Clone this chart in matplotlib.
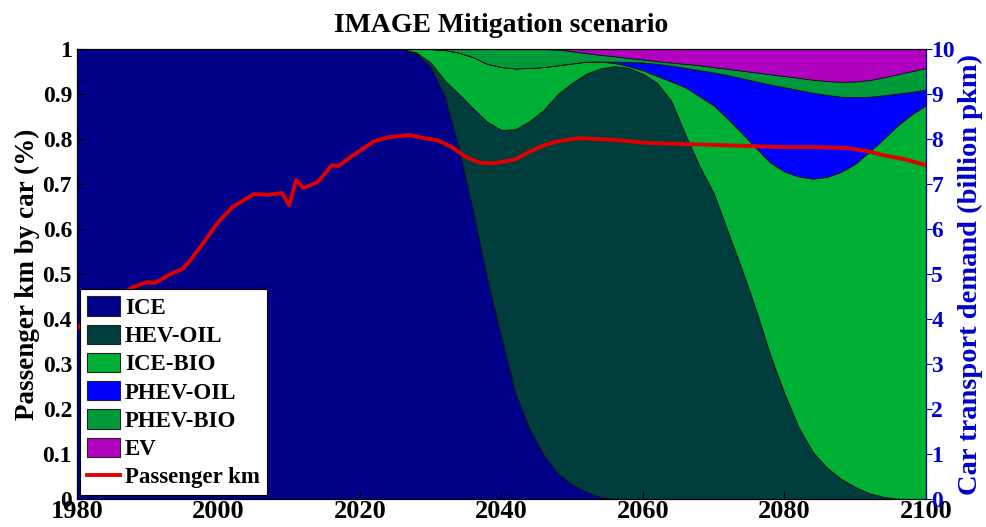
import numpy as np
import matplotlib.pyplot as plt
from matplotlib.patches import Patch
from matplotlib.lines import Line2D

plt.rcParams['font.family'] = 'Liberation Serif'
plt.rcParams['font.weight'] = 'bold'

# share of passenger km by car technology
years = [1980, 2026, 2028, 2030, 2032, 2034, 2036, 2038, 2040, 2042, 2044,
         2046, 2048, 2050, 2052, 2054, 2056, 2058, 2060, 2062, 2064, 2066,
         2068, 2070, 2072, 2074, 2076, 2078, 2080, 2082, 2084, 2086, 2088,
         2090, 2092, 2094, 2096, 2098, 2100]

ice = [1.0, 1.0, 0.99, 0.96, 0.895, 0.78, 0.64, 0.49, 0.36, 0.235, 0.155,
       0.098, 0.057, 0.033, 0.016, 0.005, 0, 0, 0, 0, 0, 0,
       0, 0, 0, 0, 0, 0, 0, 0, 0, 0, 0,
       0, 0, 0, 0, 0, 0]
hev_oil = [0, 0, 0.002, 0.01, 0.035, 0.12, 0.228, 0.348, 0.46, 0.587, 0.685,
           0.767, 0.843, 0.892, 0.929, 0.952, 0.962, 0.958, 0.945, 0.925, 0.885, 0.81,
           0.74, 0.68, 0.595, 0.51, 0.42, 0.32, 0.235, 0.16, 0.105, 0.07, 0.045,
           0.027, 0.013, 0.005, 0.001, 0, 0]
ice_bio = [0, 0, 0.008, 0.03, 0.068, 0.092, 0.114, 0.129, 0.14, 0.135, 0.118,
           0.095, 0.064, 0.043, 0.027, 0.015, 0.007, 0.004, 0.008, 0.015, 0.043, 0.105,
           0.155, 0.195, 0.25, 0.303, 0.36, 0.428, 0.493, 0.557, 0.607, 0.646, 0.682,
           0.718, 0.759, 0.795, 0.829, 0.855, 0.875]
phev_oil = [0, 0, 0, 0, 0, 0, 0, 0, 0, 0, 0,
            0, 0, 0, 0, 0, 0.003, 0.009, 0.017, 0.027, 0.035, 0.043,
            0.058, 0.073, 0.097, 0.122, 0.148, 0.173, 0.187, 0.192, 0.191, 0.182, 0.167,
            0.148, 0.122, 0.097, 0.071, 0.05, 0.035]
phev_bio = [0, 0, 0, 0, 0.002, 0.008, 0.018, 0.033, 0.04, 0.043, 0.042,
            0.04, 0.035, 0.027, 0.019, 0.015, 0.012, 0.009, 0.007, 0.006, 0.007, 0.009,
            0.011, 0.012, 0.014, 0.017, 0.02, 0.023, 0.025, 0.027, 0.029, 0.031, 0.033,
            0.035, 0.037, 0.04, 0.043, 0.046, 0.048]
ev = [0, 0, 0, 0, 0, 0, 0, 0, 0, 0, 0,
      0, 0.001, 0.005, 0.009, 0.013, 0.016, 0.02, 0.023, 0.027, 0.03, 0.033,
      0.036, 0.04, 0.044, 0.048, 0.052, 0.056, 0.06, 0.064, 0.068, 0.071, 0.073,
      0.072, 0.069, 0.063, 0.056, 0.049, 0.042]

# car transport demand (billion pkm)
pkm_years = [1980, 1984, 1987, 1988, 1990, 1991, 1993, 1995, 1996, 1998, 2000,
             2002, 2004, 2005, 2007, 2009, 2010, 2011, 2012, 2014, 2015, 2016,
             2017, 2019, 2022, 2024, 2027, 2029, 2031, 2033, 2035, 2037, 2039,
             2041, 2042, 2044, 2046, 2048, 2051, 2056, 2061, 2070, 2080, 2085,
             2089, 2092, 2094, 2097, 2100]
pkm = [3.80, 4.25, 4.62, 4.72, 4.82, 4.80, 4.98, 5.12, 5.30, 5.72, 6.16,
       6.49, 6.68, 6.78, 6.76, 6.80, 6.53, 7.09, 6.91, 7.04, 7.22, 7.42,
       7.40, 7.64, 7.95, 8.04, 8.09, 8.02, 7.97, 7.82, 7.60, 7.47, 7.46,
       7.52, 7.55, 7.72, 7.86, 7.95, 8.02, 7.98, 7.91, 7.87, 7.82, 7.82,
       7.80, 7.72, 7.64, 7.55, 7.42]

labels = ['ICE', 'HEV-OIL', 'ICE-BIO', 'PHEV-OIL', 'PHEV-BIO', 'EV']
colors = ['#000088', '#003d3d', '#00b035', '#0000ff', '#009a3a', '#b000c0']
axis_blue = '#0000cc'

fig = plt.figure(figsize=(9.86, 5.27), dpi=100)
ax = fig.add_axes([0.078, 0.053, 0.861, 0.854])

ax.stackplot(years, ice, hev_oil, ice_bio, phev_oil, phev_bio, ev,
             colors=colors, edgecolor='#111111', linewidth=0.6)
ax.set_xlim(1980, 2100)
ax.set_ylim(0, 1)
ax.set_xticks(np.arange(1980, 2101, 20))
ax.set_yticks(np.arange(0, 1.01, 0.1))
ax.set_yticklabels(['0'] + [f'{v:.1f}' for v in np.arange(0.1, 0.95, 0.1)] + ['1'])
ax.tick_params(axis='both', direction='in', length=6, width=0.8)
ax.tick_params(axis='y', labelsize=17)
ax.tick_params(axis='x', labelsize=19, pad=1)
ax.set_ylabel('Passenger km by car (%)', fontsize=19.5, fontweight='bold', labelpad=2)
ax.set_title('IMAGE Mitigation scenario', fontsize=20, fontweight='bold', pad=12)

ax2 = ax.twinx()
ax2.plot(pkm_years, pkm, color='#e00000', linewidth=2.8)
ax2.set_ylim(0, 10)
ax2.set_yticks(range(0, 11))
ax2.tick_params(axis='y', direction='out', colors=axis_blue, labelsize=17,
                length=4, width=0.8, pad=0)
ax2.spines['right'].set_color(axis_blue)
ax2.set_ylabel('Car transport demand (billion pkm)', fontsize=20.5,
               fontweight='bold', color=axis_blue, labelpad=2)

handles = [Patch(facecolor=c, edgecolor='#222222', linewidth=0.8) for c in colors]
handles.append(Line2D([], [], color='#e00000', linewidth=2.8))
leg = ax2.legend(handles, labels + ['Passenger km'], loc='upper left',
                 bbox_to_anchor=(0.004, 0.466), borderaxespad=0,
                 fontsize=16.5, handlelength=1.45, handleheight=0.92,
                 handletextpad=0.2, labelspacing=0.25, borderpad=0.3,
                 fancybox=False, framealpha=1, edgecolor='black')
leg.get_frame().set_linewidth(0.8)

fig.savefig('out.png', dpi=100)
